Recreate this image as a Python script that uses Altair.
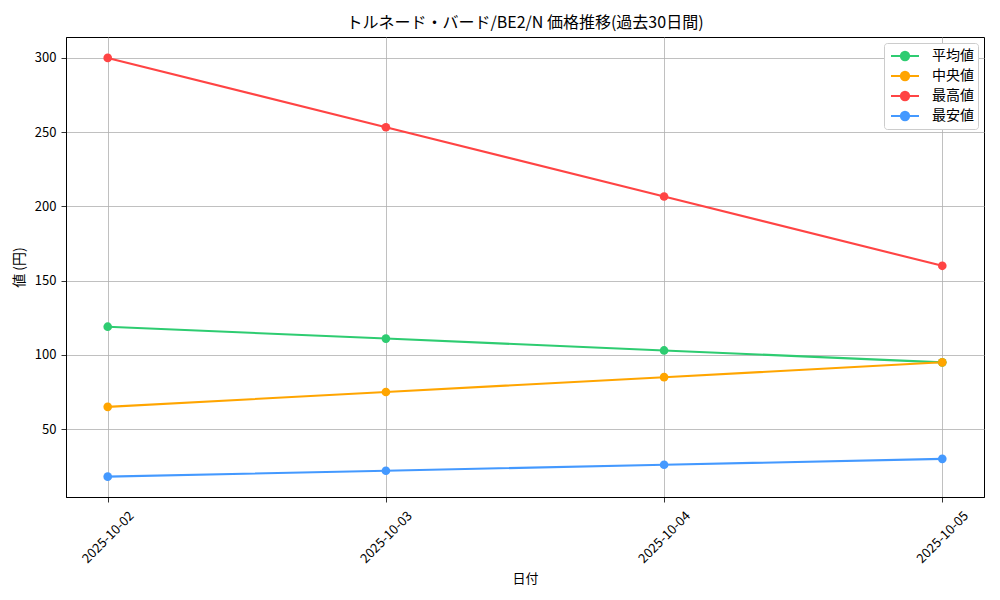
import altair as alt
import pandas as pd

# ---- data ----
dates = ["2025-10-02", "2025-10-03", "2025-10-04", "2025-10-05"]
series_names = ["平均値", "中央値", "最高値", "最安値"]
avg_vals = [119.0, 111.0, 103.0, 95.0]
med_vals = [65.0, 75.0, 85.0, 95.0]
max_vals = [300.0, 253.3, 206.7, 160.0]
min_vals = [18.0, 22.0, 26.0, 30.0]
series_colors = ["#2ecc71", "#ffa500", "#ff4444", "#4499ff"]
y_ticks = [50, 100, 150, 200, 250, 300]

rows = []
for name, vals in zip(series_names, [avg_vals, med_vals, max_vals, min_vals]):
    for d, v in zip(dates, vals):
        rows.append({"日付": d, "値": v, "系列": name})
df = pd.DataFrame(rows)

FONT = "Noto Sans CJK JP"
legend_path = "M-1.75,0H1.75M0.52,0A0.52,0.52,0,1,1,-0.52,0A0.52,0.52,0,1,1,0.52,0Z"

color = alt.Color(
    "系列:N",
    sort=series_names,
    scale=alt.Scale(domain=series_names, range=series_colors),
    legend=alt.Legend(
        title=None,
        orient="top-right",
        offset=6,
        symbolType=legend_path,
        symbolSize=256,
        symbolStrokeWidth=2,
        symbolOffset=8,
        labelOffset=18,
        labelFont=FONT,
        labelFontSize=14,
        labelColor="black",
        fillColor="white",
        strokeColor="#cccccc",
        padding=4,
        cornerRadius=3,
        rowPadding=2,
    ),
)

x = alt.X(
    "日付:O",
    sort=dates,
    scale=alt.Scale(type="point", padding=0.15),
    axis=alt.Axis(
        title="日付",
        labelAngle=315,
        labelAlign="center",
        labelBaseline="middle",
        labelPadding=35,
        grid=True,
        titlePadding=7,
    ),
)
y = alt.Y(
    "値:Q",
    scale=alt.Scale(domain=[4.3, 314.1], nice=False, zero=False),
    axis=alt.Axis(title="値 (円)", values=y_ticks, grid=True, labelPadding=5, titlePadding=8,
                  titleFontSize=14),
)

base = alt.Chart(df).encode(x=x, y=y, color=color)
lines = base.mark_line(strokeWidth=2.1)
points = base.mark_point(filled=True, size=75, opacity=1)

chart = (
    alt.layer(lines, points)
    .properties(
        width=918,
        height=460,
        autosize="none",
        padding={"left": 58, "top": 29, "right": 8, "bottom": 95},
        title=alt.Title(
            "トルネード・バード/BE2/N 価格推移(過去30日間)",
            font=FONT,
            fontSize=16,
            fontWeight="normal",
            color="black",
            anchor="middle",
            offset=6,
        ),
    )
    .configure_view(stroke="black", strokeWidth=1)
    .configure_axis(
        labelFont=FONT,
        labelFontSize=13,
        labelColor="black",
        titleFont=FONT,
        titleFontSize=13,
        titleFontWeight="normal",
        titleColor="black",
        domainColor="black",
        domainWidth=1,
        tickColor="black",
        tickSize=5,
        tickWidth=0.8,
        gridColor="#b0b0b0",
        gridWidth=0.8,
    )
)

chart.save("out.html", embed_options={"renderer": "svg", "actions": False})
